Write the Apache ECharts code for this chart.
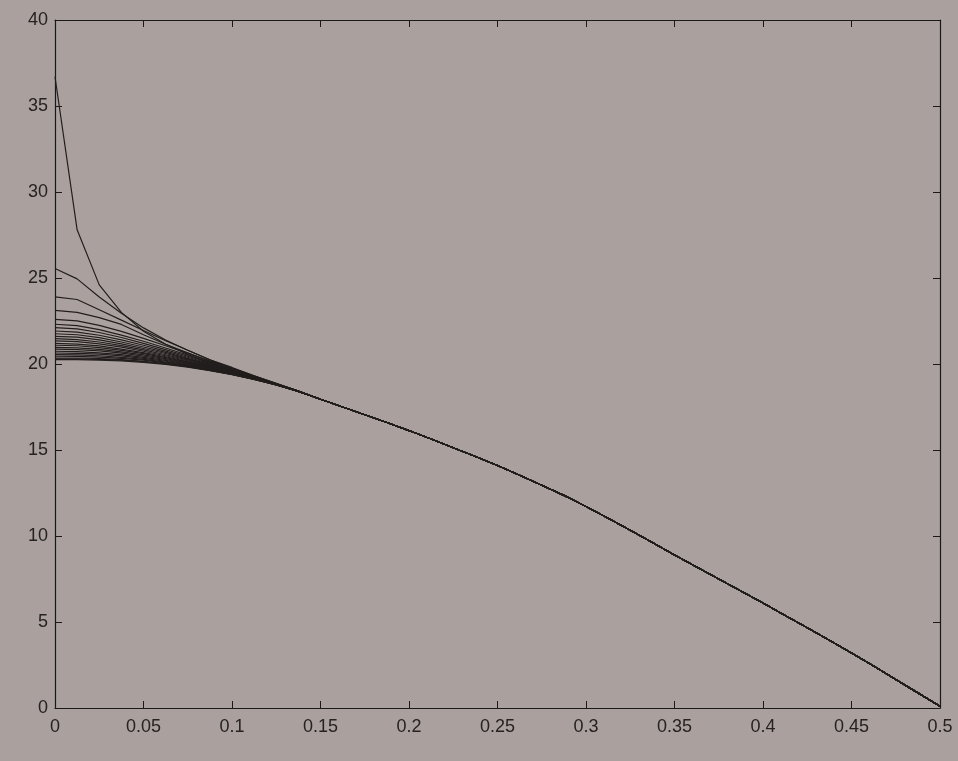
<!DOCTYPE html>
<html>
<head>
<meta charset="utf-8">
<script src="https://cdn.jsdelivr.net/npm/echarts@6/dist/echarts.min.js"></script>
<style>
html,body{margin:0;padding:0;background:#aaa19f;}
#chart{width:958px;height:761px;}
</style>
</head>
<body>
<div id="chart"></div>
<script>
// x grid (shared by all curves)
const xHead = [0, 0.0125, 0.025, 0.0375, 0.05, 0.0625, 0.075, 0.0875, 0.1, 0.1125, 0.125, 0.1375];
const xTail = [0.15, 0.1625, 0.175, 0.1875, 0.2, 0.2125, 0.225, 0.2375, 0.25, 0.2625, 0.275, 0.2875,
  0.3, 0.3125, 0.325, 0.3375, 0.35, 0.3625, 0.375, 0.3875, 0.4, 0.4125, 0.425, 0.4375, 0.45, 0.4625,
  0.475, 0.4875, 0.5];

// common converged part of all curves
const tailValues = [17.95, 17.5, 17.05, 16.6, 16.13, 15.64, 15.13, 14.62, 14.1, 13.53, 12.95, 12.36,
  11.72, 11.03, 10.33, 9.62, 8.9, 8.2, 7.5, 6.8, 6.1, 5.38, 4.66, 3.94, 3.2, 2.44, 1.66, 0.88, 0.1];

// individual starting parts of the curves (x = 0 .. 0.1375)
const c01 = [36.7, 27.8, 24.6, 23.0, 21.9, 21.15, 20.55, 20.05, 19.6, 19.2, 18.8, 18.4];
const c02 = [25.55, 24.95, 23.9, 22.95, 22.1, 21.4, 20.8, 20.25, 19.8, 19.32, 18.86, 18.42];
const c03 = [23.9, 23.75, 23.15, 22.55, 21.95, 21.35, 20.8, 20.25, 19.75, 19.28, 18.84, 18.42];
const c04 = [23.12, 23.0, 22.7, 22.3, 21.7, 21.15, 20.65, 20.15, 19.7, 19.25, 18.83, 18.42];
const c05 = [22.60, 22.51, 22.25, 21.90, 21.49, 21.06, 20.62, 20.18, 19.76, 19.31, 18.87, 18.42];
const c06 = [22.31, 22.23, 22.00, 21.68, 21.32, 20.93, 20.52, 20.11, 19.71, 19.29, 18.86, 18.42];
const c07 = [22.11, 22.04, 21.83, 21.54, 21.20, 20.84, 20.45, 20.07, 19.68, 19.27, 18.85, 18.42];
const c08 = [21.92, 21.85, 21.67, 21.40, 21.09, 20.75, 20.39, 20.02, 19.65, 19.25, 18.85, 18.42];
const c09 = [21.76, 21.70, 21.53, 21.28, 20.99, 20.68, 20.33, 19.98, 19.62, 19.24, 18.84, 18.42];
const c10 = [21.61, 21.56, 21.40, 21.17, 20.90, 20.61, 20.28, 19.95, 19.60, 19.22, 18.83, 18.41];
const c11 = [21.47, 21.42, 21.28, 21.07, 20.82, 20.54, 20.24, 19.91, 19.58, 19.21, 18.83, 18.41];
const c12 = [21.34, 21.30, 21.17, 20.98, 20.74, 20.48, 20.19, 19.88, 19.55, 19.20, 18.82, 18.41];
const c13 = [21.20, 21.16, 21.05, 20.87, 20.66, 20.42, 20.14, 19.85, 19.53, 19.19, 18.82, 18.41];
const c14 = [21.09, 21.06, 20.95, 20.79, 20.60, 20.37, 20.11, 19.82, 19.51, 19.18, 18.81, 18.41];
const c15 = [20.97, 20.94, 20.85, 20.71, 20.53, 20.31, 20.07, 19.79, 19.50, 19.17, 18.81, 18.41];
const c16 = [20.86, 20.84, 20.76, 20.63, 20.46, 20.26, 20.03, 19.77, 19.48, 19.16, 18.80, 18.41];
const c17 = [20.74, 20.72, 20.65, 20.54, 20.39, 20.21, 19.99, 19.74, 19.46, 19.14, 18.80, 18.41];
const c18 = [20.64, 20.62, 20.57, 20.47, 20.33, 20.16, 19.95, 19.71, 19.44, 19.14, 18.80, 18.40];
const c19 = [20.54, 20.53, 20.48, 20.39, 20.27, 20.11, 19.92, 19.69, 19.43, 19.13, 18.79, 18.40];
const c20 = [20.45, 20.44, 20.40, 20.33, 20.22, 20.07, 19.89, 19.67, 19.41, 19.12, 18.79, 18.40];
const c21 = [20.35, 20.35, 20.32, 20.25, 20.16, 20.03, 19.85, 19.64, 19.40, 19.11, 18.78, 18.40];
const c22 = [20.30, 20.30, 20.27, 20.22, 20.13, 20.00, 19.84, 19.63, 19.39, 19.10, 18.78, 18.40];
const c23 = [20.25, 20.25, 20.23, 20.18, 20.10, 19.98, 19.82, 19.62, 19.38, 19.10, 18.78, 18.40];

const curveHeads = [c01, c02, c03, c04, c05, c06, c07, c08, c09, c10, c11, c12,
  c13, c14, c15, c16, c17, c18, c19, c20, c21, c22, c23];

const xTicks = [0, 0.05, 0.1, 0.15, 0.2, 0.25, 0.3, 0.35, 0.4, 0.45, 0.5];
const yTicks = [0, 5, 10, 15, 20, 25, 30, 35, 40];

const xAll = xHead.concat(xTail);
const series = curveHeads.map((head, i) => ({
  type: 'line',
  name: 'c' + (i + 1),
  showSymbol: false,
  symbol: 'none',
  silent: true,
  lineStyle: { color: '#221e1d', width: 1.2 },
  data: head.concat(tailValues).map((y, j) => [xAll[j], y])
}));

const axisColor = '#1b1918';
const labelColor = '#252221';
const fmt = v => String(Math.round(v * 100) / 100);

const chart = echarts.init(document.getElementById('chart'), null, { renderer: 'canvas' });
chart.setOption({
  backgroundColor: '#aaa19f',
  animation: false,
  grid: { left: 55, right: 18, top: 20, bottom: 53, containLabel: false },
  xAxis: [
    {
      type: 'value', min: xTicks[0], max: xTicks[xTicks.length - 1], interval: 0.05,
      position: 'bottom',
      axisLine: { show: true, onZero: false, lineStyle: { color: axisColor, width: 1.2 } },
      axisTick: { show: true, inside: true, length: 7, lineStyle: { color: axisColor } },
      axisLabel: { show: true, fontSize: 18, color: labelColor, margin: 10,
        fontFamily: 'Liberation Sans, Arial, sans-serif', formatter: fmt },
      splitLine: { show: false }
    },
    {
      type: 'value', min: xTicks[0], max: xTicks[xTicks.length - 1], interval: 0.05,
      position: 'top',
      axisLine: { show: true, onZero: false, lineStyle: { color: axisColor, width: 1.2 } },
      axisTick: { show: true, inside: true, length: 7, lineStyle: { color: axisColor } },
      axisLabel: { show: false },
      splitLine: { show: false }
    }
  ],
  yAxis: [
    {
      type: 'value', min: yTicks[0], max: yTicks[yTicks.length - 1], interval: 5,
      position: 'left',
      axisLine: { show: true, onZero: false, lineStyle: { color: axisColor, width: 1.2 } },
      axisTick: { show: true, inside: true, length: 7, lineStyle: { color: axisColor } },
      axisLabel: { show: true, fontSize: 18, color: labelColor, margin: 7,
        fontFamily: 'Liberation Sans, Arial, sans-serif', formatter: fmt },
      splitLine: { show: false }
    },
    {
      type: 'value', min: yTicks[0], max: yTicks[yTicks.length - 1], interval: 5,
      position: 'right',
      axisLine: { show: true, onZero: false, lineStyle: { color: axisColor, width: 1.2 } },
      axisTick: { show: true, inside: true, length: 7, lineStyle: { color: axisColor } },
      axisLabel: { show: false },
      splitLine: { show: false }
    }
  ],
  series: series
});
</script>
</body>
</html>
